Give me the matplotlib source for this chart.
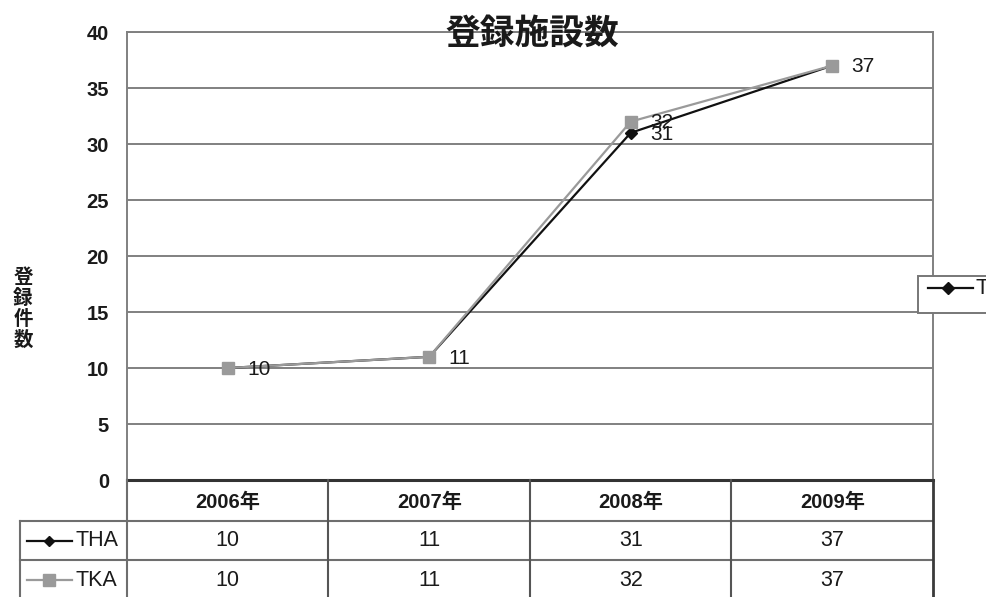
import matplotlib
matplotlib.use("Agg")
import matplotlib.pyplot as plt
from matplotlib.lines import Line2D
from matplotlib.patches import Rectangle
from matplotlib.transforms import blended_transform_factory

# ---- data ----
years = ["2006年", "2007年", "2008年", "2009年"]
tha = [10, 11, 31, 37]
tka = [10, 11, 32, 37]
series_names = ["THA", "TKA"]
title = "登録施設数"
ylabel = "登録件数"
yticks = [0, 5, 10, 15, 20, 25, 30, 35, 40]

W, H = 987, 597
fig = plt.figure(figsize=(W / 100, H / 100), dpi=100)
fig.patch.set_facecolor("white")


def fx(px):
    return px / W


def fy(py):
    return 1 - py / H


CJK = ["Noto Sans CJK JP", "DejaVu Sans"]
NUM = ["Liberation Sans", "Noto Sans CJK JP"]
BOLD = ["Liberation Sans", "Noto Sans CJK JP"]

ax = fig.add_axes([fx(127), fy(480), fx(933) - fx(127), fy(32) - fy(480)])
xs = list(range(len(years)))
ax.set_xlim(-0.5, len(years) - 0.5)
ax.set_ylim(yticks[0], yticks[-1])
ax.set_yticks(yticks)
ax.set_xticks([])
ax.tick_params(axis="y", length=0, pad=13)
for lab in ax.get_yticklabels():
    lab.set_fontfamily(BOLD)
    lab.set_fontweight("bold")
    lab.set_fontsize(14.5)
    lab.set_color("#1a1a1a")
ax.grid(axis="y", color="#808080", linewidth=1.4)
ax.set_axisbelow(True)
for side in ("top", "right", "left"):
    ax.spines[side].set_color("#808080")
    ax.spines[side].set_linewidth(1.4)
ax.spines["bottom"].set_color("#333333")
ax.spines["bottom"].set_linewidth(2.2)

# series
tha_color, tka_color = "#111111", "#9a9a9a"
ax.plot(xs, tha, color=tha_color, lw=1.6, marker="D", ms=6, zorder=3)
ax.plot(xs, tka, color=tka_color, lw=1.6, marker="s", ms=9, zorder=4)

# value labels
for i, v in enumerate(tka):
    ax.annotate(str(v), (i, v), xytext=(14, -1), textcoords="offset points",
                va="center", ha="left", fontsize=15, family=NUM, color="#1a1a1a", zorder=5)
for i, v in enumerate(tha):
    if v != tka[i]:
        ax.annotate(str(v), (i, v), xytext=(14, -1), textcoords="offset points",
                    va="center", ha="left", fontsize=15, family=NUM, color="#1a1a1a", zorder=5)

# title and y-axis label
fig.text(fx(532), fy(33), title, ha="center", va="center", fontsize=25,
         fontweight="bold", family=CJK, color="#1a1a1a")
fig.text(fx(23), fy(309), "\n".join(ylabel), ha="center", va="center", fontsize=14,
         fontweight="bold", family=CJK, color="#1a1a1a", linespacing=1.12)

# ---- data table under the axis ----
bt = blended_transform_factory(ax.transData, fig.transFigure)
row_lines = [521, 560]
table_bottom = 600
line_kw = dict(color="#6e6e6e", lw=1.5)
for ry in row_lines:
    fig.add_artist(Line2D([fx(20), fx(933)], [fy(ry), fy(ry)], **line_kw))
fig.add_artist(Line2D([fx(20), fx(20)], [fy(row_lines[0]), fy(table_bottom)], **line_kw))
fig.add_artist(Line2D([-0.5, -0.5], [fy(480), fy(table_bottom)], transform=bt, **line_kw))
for i in range(len(years)):
    b = i + 0.5
    col = "#3a3a3a" if i == len(years) - 1 else "#555555"
    lw = 2.0 if i == len(years) - 1 else 1.5
    fig.add_artist(Line2D([b, b], [fy(480), fy(table_bottom)], transform=bt, color=col, lw=lw))

for i, yr in enumerate(years):
    fig.text(i, fy(502), yr, transform=bt, ha="center", va="center", fontsize=14.5,
             family=["Liberation Sans", "Noto Sans CJK JP"], fontweight="bold", color="#1a1a1a")
row_y = [541, 580]
for r, (vals, name, col, mk, ms) in enumerate(zip([tha, tka], series_names,
                                                  [tha_color, tka_color], ["D", "s"], [5, 8])):
    for i, v in enumerate(vals):
        fig.text(i, fy(row_y[r]), str(v), transform=bt, ha="center", va="center",
                 fontsize=15.5, family=NUM, color="#1a1a1a")
    fig.add_artist(Line2D([fx(27), fx(72)], [fy(row_y[r])] * 2, color=col, lw=1.6))
    fig.add_artist(Line2D([fx(49.5)], [fy(row_y[r])], color=col, marker=mk, ms=ms, lw=0))
    fig.text(fx(76), fy(row_y[r]), name, ha="left", va="center", fontsize=15.5,
             family=NUM, color="#1a1a1a")

# legend box at the right edge
fig.add_artist(Rectangle((fx(918), fy(313)), fx(100), fy(276) - fy(313),
                         facecolor="white", edgecolor="#777777", lw=1.4))
fig.add_artist(Line2D([fx(928), fx(973)], [fy(288)] * 2, color=tha_color, lw=1.6))
fig.add_artist(Line2D([fx(948)], [fy(288)], color=tha_color, marker="D", ms=6, lw=0))
fig.text(fx(976), fy(289), series_names[0], ha="left", va="center", fontsize=15.5,
         family=NUM, color="#1a1a1a")

fig.savefig("out.png", dpi=100)
